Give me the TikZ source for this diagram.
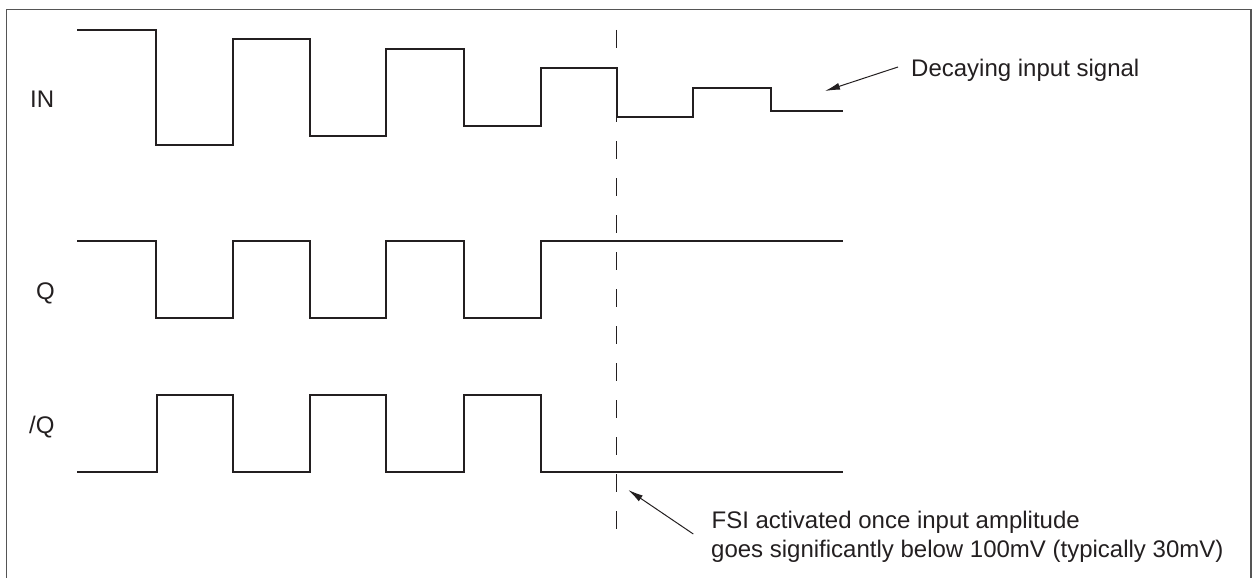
\documentclass[tikz,border=0pt]{standalone}
\usepackage{fontspec}
\setmainfont{Liberation Sans}
\usetikzlibrary{arrows.meta}
\definecolor{ink}{HTML}{231F20}
\definecolor{frame}{HTML}{555555}
\begin{document}
\begin{tikzpicture}[x=1pt,y=-1pt,
  wave/.style={draw=ink,line width=2pt,line join=miter},
  lbl/.style={font=\fontsize{24}{29}\selectfont,text=ink,inner sep=0pt,anchor=base west},
  pointer/.style={draw=ink,line width=1pt,-{Latex[length=15pt,width=7pt]}},
  fsiline/.style={draw=ink,line width=1pt,dash pattern=on 18pt off 19pt}]
\useasboundingbox (0,0) rectangle (1253,578);
\draw[draw=frame,line width=1.5pt] (6.5,9.3) rectangle (1251,600);
% signal labels
\node[lbl] (in) at (30,107.3) {IN};
\node[lbl] (q) at (36,299) {Q};
\node[lbl] (nq) at (29,433) {/Q};
% IN waveform
\draw[wave] (77,30) -| (156,145) -| (232.7,39.3) -| (310.3,135.7) -| (386.3,49.3)
  -| (464,126) -| (540.7,68.3) -| (616.7,116.7) -| (693,88) -| (771,111) -- (843,111);
% Q waveform
\draw[wave] (77,241) -| (156,318) -| (232.5,241) -| (310.3,318) -| (386.3,241)
  -| (464,318) -| (540.7,241) -- (843,241);
% /Q waveform
\draw[wave] (77,472) -| (156.5,395) -| (233,472) -| (310.3,395) -| (386.3,472)
  -| (464,395) -| (540.7,472) -- (843,472);
% FSI activation marker
\coordinate (fsitop) at (616.7,30);
\coordinate (fsibot) at (616.7,529);
\draw[fsiline] (fsitop) -- (fsibot);
% annotations
\node[lbl] (decay) at (911,77) {Decaying input signal};
\node[lbl] (fsia) at (711.4,528.3) {FSI activated once input amplitude};
\node[lbl] (fsib) at (711,557.3) {goes significantly below 100mV (typically 30mV)};
\coordinate (a1s) at (898,67);
\coordinate (a1e) at (825,91);
\coordinate (a2s) at (693.3,534);
\coordinate (a2e) at (628.3,490);
\draw[pointer] (a1s) -- (a1e);
\draw[pointer] (a2s) -- (a2e);
\end{tikzpicture}
\end{document}
